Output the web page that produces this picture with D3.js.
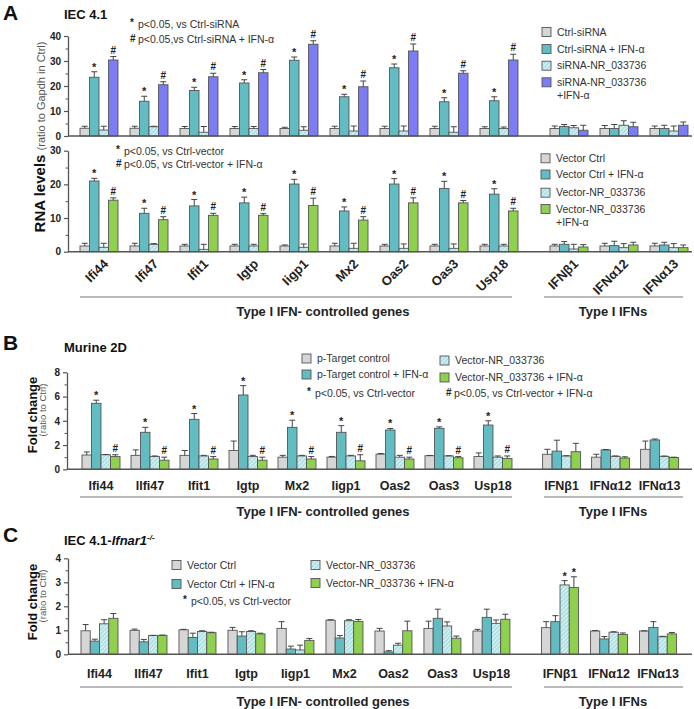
<!DOCTYPE html>
<html><head><meta charset="utf-8">
<script src="https://cdn.jsdelivr.net/npm/d3@7"></script>
<style>body{margin:0;background:#fff} svg{font-family:"Liberation Sans",Arial,sans-serif}</style>
</head><body><svg id="c" width="694" height="709"></svg>
<script>
// ---------- categories ----------
const genesA = ["Ifi44","Ifi47","Ifit1","Igtp","Iigp1","Mx2","Oas2","Oas3","Usp18","IFNβ1","IFNα12","IFNα13"];
const genesB = ["Ifi44","Ilfi47","Ifit1","Igtp","Mx2","Iigp1","Oas2","Oas3","Usp18","IFNβ1","IFNα12","IFNα13"];
const genesC = ["Ifi44","Ilfi47","Ifit1","Igtp","Iigp1","Mx2","Oas2","Oas3","Usp18","IFNβ1","IFNα12","IFNα13"];
const groupLabels = ["Type I IFN- controlled genes","Type I IFNs"];

// ---------- Panel A (top): IEC 4.1 siRNA ----------
const aTopCtrl     = [3.1,3.1,3.0,3.0,3.0,3.0,3.0,3.0,3.0,3.0,3.0,3.0];
const aTopCtrlErr  = [0.8,0.8,0.8,0.8,0.5,0.9,0.9,0.9,0.7,1.0,1.2,1.0];
const aTopIfn      = [23.5,13.9,18.2,21.2,30.3,15.7,27.3,13.7,14.1,3.8,3.0,3.0];
const aTopIfnErr   = [2.2,2.0,1.3,1.3,1.3,1.0,1.5,1.6,1.6,0.8,1.6,1.3];
const aTopNr       = [2.4,3.7,1.5,3.0,2.3,2.0,2.0,1.5,3.0,3.3,4.3,2.0];
const aTopNrErr    = [1.5,0.2,2.3,0.8,1.4,2.0,2.0,2.2,0.6,0.9,1.8,2.0];
const aTopNrIfn    = [30.4,20.5,23.7,25.3,36.7,19.7,34.0,25.1,30.4,2.3,3.7,4.3];
const aTopNrIfnErr = [1.4,1.2,1.4,1.3,1.4,2.3,2.8,1.0,2.3,2.0,1.8,1.3];
const aTopLegend = ["Ctrl-siRNA","Ctrl-siRNA + IFN-α","siRNA-NR_033736","siRNA-NR_033736\n+IFN-α"];
const aTopNotes = ["p<0.05, vs Ctrl-siRNA","p<0.05,vs Ctrl-siRNA + IFN-α"];
const aTopTicks = [0,10,20,30,40];

// ---------- Panel A (bottom): IEC 4.1 vector ----------
const aBotCtrl     = [1.7,1.7,1.7,1.7,1.7,1.7,1.7,1.7,1.7,1.7,1.7,1.7];
const aBotCtrlErr  = [0.8,0.8,0.5,0.5,0.3,0.8,0.5,0.5,0.5,0.5,0.8,0.8];
const aBotIfn      = [21.0,11.4,13.6,14.5,20.1,12.1,20.1,18.8,17.1,2.2,1.8,2.0];
const aBotIfnErr   = [0.8,1.5,1.9,1.7,1.4,1.2,1.6,2.1,1.6,0.8,1.3,0.8];
const aBotNr       = [1.3,2.2,0.7,1.7,1.3,1.0,1.0,1.0,1.7,0.8,1.2,1.2];
const aBotNrErr    = [1.2,0.2,1.5,0.5,1.0,1.5,1.3,1.3,0.5,1.4,1.2,1.2];
const aBotNrIfn    = [15.3,9.5,10.8,10.8,13.7,9.4,14.5,14.5,12.1,1.4,2.0,1.2];
const aBotNrIfnErr = [0.7,0.9,0.6,0.5,2.2,1.0,1.5,0.7,0.8,0.7,0.8,0.8];
const aBotLegend = ["Vector Ctrl","Vector Ctrl + IFN-α","Vector-NR_033736","Vector-NR_033736\n+IFN-α"];
const aBotNotes = ["p<0.05, vs Ctrl-vector","p<0.05, vs Ctrl-vector  + IFN-α"];
const aBotTicks = [0,10,20,30];

// ---------- Panel B: Murine 2D ----------
const bCtrl     = [1.18,1.15,1.15,1.55,1.0,1.0,1.25,1.12,1.05,1.24,1.0,1.65];
const bCtrlErr  = [0.25,0.45,0.4,0.78,0.15,0.06,0.05,0.02,0.3,0.41,0.24,0.68];
const bIfn      = [5.44,3.05,4.12,6.13,3.46,3.05,3.24,3.38,3.65,1.5,1.6,2.42];
const bIfnErr   = [0.26,0.41,0.48,0.77,0.59,0.55,0.13,0.12,0.35,0.9,0.03,0.08];
const bNr       = [1.2,1.05,1.1,1.05,1.1,1.1,1.0,1.1,1.0,1.1,1.07,1.07];
const bNrErr    = [0.02,0.05,0.05,0.1,0.05,0.05,0.15,0.02,0.1,0.02,0.03,0.02];
const bNrIfn    = [1.05,0.75,0.85,0.75,0.85,0.7,0.85,0.95,0.9,1.45,0.93,0.97];
const bNrIfnErr = [0.15,0.25,0.2,0.25,0.2,0.5,0.15,0.1,0.2,0.69,0.1,0.03];
const bLegend = ["p-Target control","p-Target control + IFN-α","Vector-NR_033736","Vector-NR_033736 + IFN-α"];
const bNotes = ["p<0.05, vs Ctrl-vector","p<0.05, vs Ctrl-vector  + IFN-α"];
const bTicks = [0,2,4,6,8];

// ---------- Panel C: IEC 4.1-Ifnar1-/- ----------
const cCtrl     = [0.98,1.0,1.02,1.0,1.08,1.42,0.97,1.08,0.97,1.11,0.97,0.97];
const cCtrlErr  = [0.26,0.05,0.02,0.12,0.28,0.02,0.11,0.3,0.07,0.25,0.02,0.01];
const cIfn      = [0.55,0.52,0.7,0.76,0.22,0.68,0.1,1.5,1.54,1.36,0.64,1.12];
const cIfnErr   = [0.08,0.1,0.18,0.18,0.12,0.1,0.05,0.38,0.34,0.25,0.1,0.24];
const cNr       = [1.27,0.78,0.95,0.95,0.18,1.4,0.38,1.18,1.29,2.89,0.92,0.73];
const cNrErr    = [0.17,0.01,0.03,0.03,0.2,0.04,0.08,0.17,0.14,0.18,0.02,0.02];
const cNrIfn    = [1.5,0.79,0.9,0.85,0.58,1.37,0.98,0.67,1.46,2.78,0.83,0.85];
const cNrIfnErr = [0.2,0.01,0.02,0.03,0.08,0.08,0.4,0.09,0.21,0.45,0.06,0.06];
const cLegend = ["Vector Ctrl","Vector Ctrl + IFN-α","Vector-NR_033736","Vector-NR_033736 + IFN-α"];
const cNotes = ["p<0.05, vs Ctrl-vector"];
const cTicks = [0,1,2,3,4];

// significance marks: [series index, gene indices, symbol]
const geneIdx = [0,1,2,3,4,5,6,7,8];
const sigA = [[1, geneIdx, "*"], [3, geneIdx, "#"]];
const sigC = [[2, [9], "*"], [3, [9], "*"]];

// ---------- styles ----------
const C_GRAY = "#d6d6d6", C_TEAL = "#63bcc1", C_PURP = "#7c7cf7", C_GREEN = "#8fd14f";
const STROKE = "#555";

const svg = d3.select("#c");
const defs = svg.append("defs");
const pat = defs.append("pattern").attr("id","hatch").attr("patternUnits","userSpaceOnUse")
  .attr("width",3).attr("height",3).attr("patternTransform","rotate(45)");
pat.append("rect").attr("width",3).attr("height",3).attr("fill","#cdeef1");
pat.append("line").attr("x1",0).attr("y1",0).attr("x2",0).attr("y2",3).attr("stroke","#86cbd3").attr("stroke-width",1.2);
const HATCH = "url(#hatch)";

const slot = i => i < 9 ? i : i + 0.4;

function drawPanel(cfg) {
  const g = svg.append("g");
  const y = d3.scaleLinear().domain(cfg.domain).range(cfg.yRange);
  const x = d3.scaleLinear().domain([0, 11.4]).range(cfg.xRange);
  const inner = d3.scaleBand().domain(d3.range(4)).range([-cfg.half, cfg.half]);
  const bw = inner.bandwidth();

  // y axis
  const ya = g.append("g").attr("transform", `translate(${cfg.axisX},0)`)
    .call(d3.axisLeft(y).tickValues(cfg.ticks).tickFormat(d3.format("d")).tickSize(4).tickSizeOuter(0).tickPadding(3));
  ya.select(".domain").attr("stroke", STROKE).attr("stroke-width",1.3);
  ya.selectAll(".tick line").attr("stroke", STROKE).attr("stroke-width",1.2);
  ya.selectAll(".tick text").attr("font-size", 10).attr("font-weight","bold").attr("fill","#222")
    .attr("font-family","Liberation Sans, Arial, sans-serif");
  const minor = d3.range(cfg.domain[0], cfg.domain[1] + 1e-9, cfg.minor).filter(v => !cfg.ticks.includes(v));
  g.append("g").attr("transform", `translate(${cfg.axisX},0)`)
    .call(d3.axisLeft(y).tickValues(minor).tickSize(2.5).tickFormat(""))
    .call(s => { s.select(".domain").remove(); s.selectAll("line").attr("stroke",STROKE); });

  // bars
  cfg.series.forEach((s, si) => {
    g.append("g").selectAll("rect").data(s.vals).join("rect")
      .attr("x", (d,i) => x(slot(i)) + inner(si))
      .attr("y", d => y(d))
      .attr("width", bw)
      .attr("height", d => y(0) - y(d))
      .attr("fill", s.fill).attr("stroke", STROKE).attr("stroke-width", 0.9);
  });
  // error bars
  cfg.series.forEach((s, si) => {
    const eg = g.append("g").attr("stroke", "#444").attr("stroke-width", 1);
    s.vals.forEach((v, i) => {
      const cx = x(slot(i)) + inner(si) + bw/2;
      const top = y(v + s.errs[i]);
      eg.append("line").attr("x1", cx).attr("x2", cx).attr("y1", y(v)).attr("y2", top);
      eg.append("line").attr("x1", cx-3).attr("x2", cx+3).attr("y1", top).attr("y2", top);
    });
  });
  // significance marks
  (cfg.sig || []).forEach(([si, idx, sym]) => {
    const s = cfg.series[si];
    idx.forEach(i => {
      const cx = x(slot(i)) + inner(si) + bw/2;
      g.append("text").attr("x", cx).attr("y", y(s.vals[i] + s.errs[i]) - (sym === "#" ? 3 : 1))
        .attr("text-anchor","middle").attr("font-size", sym === "#" ? 10 : 11)
        .attr("font-weight","bold").attr("fill","#222").text(sym);
    });
  });
  // x axis line
  g.append("line").attr("x1", cfg.axisX).attr("x2", 692).attr("y1", y(0)).attr("y2", y(0))
    .attr("stroke", STROKE).attr("stroke-width", 1.6);

  // category labels
  if (cfg.labels === "rot") {
    cfg.genes.forEach((name, i) => {
      g.append("text").attr("transform", `translate(${x(slot(i)) + 10},${y(0) + 13}) rotate(-45)`)
        .attr("text-anchor","end").attr("font-size", 13).attr("font-weight","bold").attr("fill","#222").text(name);
    });
  } else if (cfg.labels === "flat") {
    cfg.genes.forEach((name, i) => {
      g.append("text").attr("x", x(slot(i))).attr("y", cfg.labelY)
        .attr("text-anchor","middle").attr("font-size", 12.5).attr("font-weight","bold").attr("fill","#222").text(name);
    });
  }
  if (cfg.groupY) {
    g.append("line").attr("x1",80).attr("x2",512).attr("y1",cfg.groupY).attr("y2",cfg.groupY).attr("stroke","#777").attr("stroke-width",1.2);
    g.append("line").attr("x1",544).attr("x2",683).attr("y1",cfg.groupY).attr("y2",cfg.groupY).attr("stroke","#777").attr("stroke-width",1.2);
    g.append("text").attr("x",323).attr("y",cfg.groupY+19).attr("text-anchor","middle").attr("font-size",13).attr("font-weight","bold").attr("fill","#222").text(groupLabels[0]);
    g.append("text").attr("x",613).attr("y",cfg.groupY+19).attr("text-anchor","middle").attr("font-size",13).attr("font-weight","bold").attr("fill","#222").text(groupLabels[1]);
  }
  return g;
}

function legendItem(x, yc, fill, label, fs) {
  svg.append("rect").attr("x", x).attr("y", yc - 4.5).attr("width", 9).attr("height", 9)
    .attr("fill", fill).attr("stroke", STROKE).attr("stroke-width", 0.9);
  const lines = label.split("\n");
  lines.forEach((ln, k) => {
    svg.append("text").attr("x", x + 15).attr("y", yc + 3.5 + k*13).attr("font-size", fs || 10.5).attr("fill","#333").text(ln);
  });
}
function note(x, yb, sym, label, fs) {
  svg.append("text").attr("x", x).attr("y", yb - (sym === "*" ? 2 : 1)).attr("font-size", 10).attr("font-weight","bold").attr("fill","#222").text(sym);
  svg.append("text").attr("x", x + 8).attr("y", yb).attr("font-size", fs || 10.5).attr("fill","#333").text(label);
}
function panelLetter(t, yb) {
  svg.append("text").attr("x", 3).attr("y", yb).attr("font-size", 21).attr("font-weight","bold").attr("fill","#111").text(t);
}

// ===== Panel A =====
panelLetter("A", 20);
svg.append("text").attr("x", 64).attr("y", 19).attr("font-size", 13).attr("font-weight","bold").attr("fill","#111").text("IEC 4.1");
drawPanel({
  domain:[0,40], yRange:[136,36], xRange:[99,669], half:19, axisX:68, ticks:aTopTicks, minor:5,
  series:[{vals:aTopCtrl,errs:aTopCtrlErr,fill:C_GRAY},{vals:aTopIfn,errs:aTopIfnErr,fill:C_TEAL},
          {vals:aTopNr,errs:aTopNrErr,fill:HATCH},{vals:aTopNrIfn,errs:aTopNrIfnErr,fill:C_PURP}],
  sig:sigA, genes:genesA, labels:null
});
drawPanel({
  domain:[0,30], yRange:[251.7,150.7], xRange:[99,669], half:19, axisX:68, ticks:aBotTicks, minor:5,
  series:[{vals:aBotCtrl,errs:aBotCtrlErr,fill:C_GRAY},{vals:aBotIfn,errs:aBotIfnErr,fill:C_TEAL},
          {vals:aBotNr,errs:aBotNrErr,fill:HATCH},{vals:aBotNrIfn,errs:aBotNrIfnErr,fill:C_GREEN}],
  sig:sigA, genes:genesA, labels:"rot", groupY:297
});
note(130, 28, "*", aTopNotes[0]);
note(130, 43, "#", aTopNotes[1]);
[C_GRAY,C_TEAL,HATCH,C_PURP].forEach((f,k) => legendItem(542, [32,49,65.7,82.3][k], f, aTopLegend[k]));
note(116, 155, "*", aBotNotes[0]);
note(116, 168, "#", aBotNotes[1]);
[C_GRAY,C_TEAL,HATCH,C_GREEN].forEach((f,k) => legendItem(541, [158.3,174.5,192.7,209][k], f, aBotLegend[k]));
// y label A
svg.append("text").attr("transform","translate(45,137) rotate(-90)").attr("text-anchor","middle")
  .call(t => { t.append("tspan").attr("font-size",15).attr("font-weight","bold").attr("fill","#111").text("RNA levels ");
               t.append("tspan").attr("font-size",11).attr("fill","#555").text("(ratio to Gapdh in Ctrl)"); });

// ===== Panel B =====
panelLetter("B", 350);
svg.append("text").attr("x", 64).attr("y", 352).attr("font-size", 13).attr("font-weight","bold").attr("fill","#111").text("Murine 2D");
drawPanel({
  domain:[0,8], yRange:[469.3,372.3], xRange:[101,659.6], half:19, axisX:67, ticks:bTicks, minor:1,
  series:[{vals:bCtrl,errs:bCtrlErr,fill:C_GRAY},{vals:bIfn,errs:bIfnErr,fill:C_TEAL},
          {vals:bNr,errs:bNrErr,fill:HATCH},{vals:bNrIfn,errs:bNrIfnErr,fill:C_GREEN}],
  sig:sigA, genes:genesB, labels:"flat", labelY:489.5, groupY:497
});
legendItem(302, 358.5, C_GRAY, bLegend[0]);
legendItem(302, 374.5, C_TEAL, bLegend[1]);
legendItem(440, 360.5, HATCH, bLegend[2]);
legendItem(440, 377.5, C_GREEN, bLegend[3]);
note(307, 397, "*", bNotes[0]);
note(446, 397, "#", bNotes[1]);
function foldLabel(cy, cy2) {
  svg.append("text").attr("transform",`translate(37,${cy}) rotate(-90)`).attr("text-anchor","middle")
    .attr("font-size",13).attr("font-weight","bold").attr("fill","#111").text("Fold change");
  svg.append("text").attr("transform",`translate(46,${cy2}) rotate(-90)`).attr("text-anchor","middle")
    .attr("font-size",9.5).attr("fill","#555").text("(ratio to Ctrl)");
}
foldLabel(415, 410);

// ===== Panel C =====
panelLetter("C", 542);
svg.append("text").attr("x", 64).attr("y", 545).attr("font-size", 13).attr("font-weight","bold").attr("fill","#111")
  .call(t => { t.append("tspan").text("IEC 4.1-");
               t.append("tspan").attr("font-style","italic").text("Ifnar1");
               t.append("tspan").attr("font-size",8).attr("dy",-5).attr("font-style","italic").text("-/-"); });
drawPanel({
  domain:[0,4], yRange:[654.3,558.3], xRange:[99.5,658], half:18.5, axisX:68, ticks:cTicks, minor:0.5,
  series:[{vals:cCtrl,errs:cCtrlErr,fill:C_GRAY},{vals:cIfn,errs:cIfnErr,fill:C_TEAL},
          {vals:cNr,errs:cNrErr,fill:HATCH},{vals:cNrIfn,errs:cNrIfnErr,fill:C_GREEN}],
  sig:sigC, genes:genesC, labels:"flat", labelY:677.5, groupY:687
});
legendItem(172, 565, C_GRAY, cLegend[0]);
legendItem(172, 584, C_TEAL, cLegend[1]);
legendItem(311, 565, HATCH, cLegend[2]);
legendItem(311, 583, C_GREEN, cLegend[3]);
note(183, 604.5, "*", cNotes[0]);
foldLabel(602, 596);
</script></body></html>
